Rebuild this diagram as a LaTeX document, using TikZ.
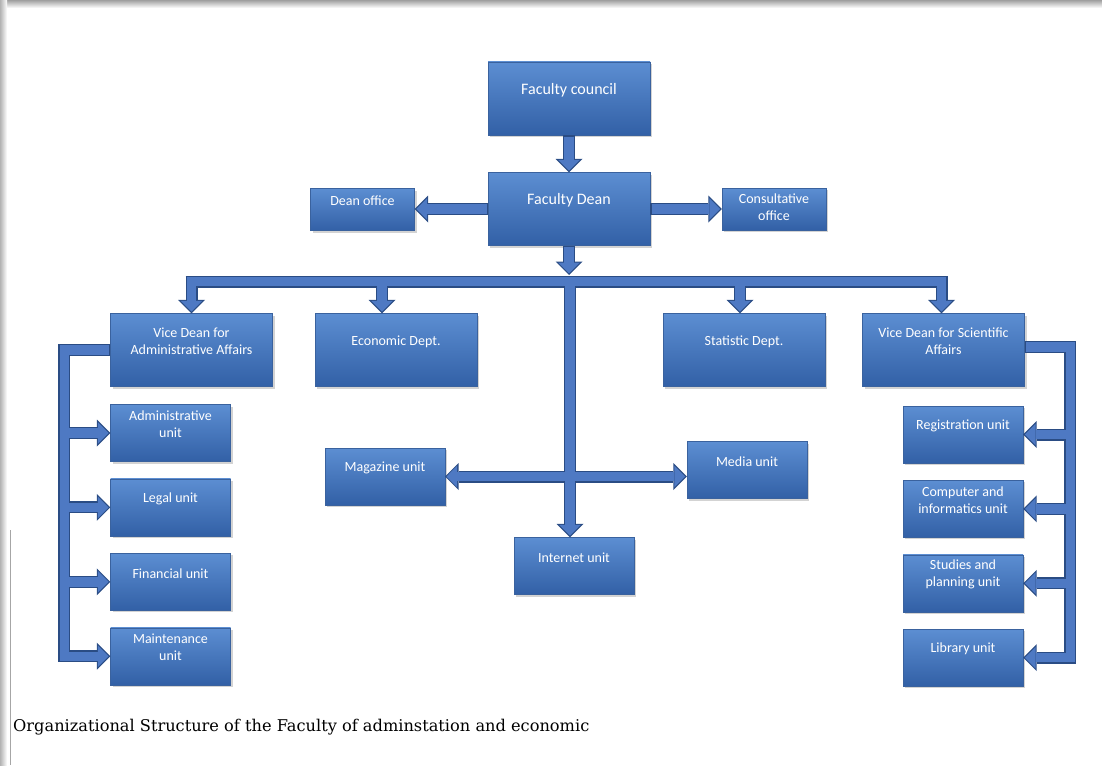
\documentclass[tikz,border=0pt]{standalone}
\usepackage{fontspec}
\usepackage{tikz}
\usetikzlibrary{positioning,arrows.meta,shadows}
\newfontfamily\boxfont{Carlito}
\newfontfamily\capfont{DejaVu Serif}
\definecolor{boxtop}{RGB}{92,142,210}
\definecolor{boxbot}{RGB}{50,96,166}
\definecolor{boxedge}{RGB}{58,98,158}
\definecolor{pipefill}{RGB}{78,121,195}
\definecolor{pipeedge}{RGB}{42,76,132}

\tikzset{
	box/.style={draw=boxedge, top color=boxtop, bottom color=boxbot, minimum width=162pt, minimum height=73pt,
		drop shadow={shadow xshift=2pt, shadow yshift=-2pt, opacity=0.35}},
	unit/.style={box, minimum width=120pt, minimum height=57pt},
	small/.style={box, minimum width=104pt, minimum height=42pt},
	lbl/.style={text=white, font=\boxfont\fontsize{14}{17}\selectfont, align=center, yshift=8.5pt},
	big/.style={lbl, font=\boxfont\fontsize{16}{19}\selectfont},
	pipe-out/.style={line width=12pt, draw=pipeedge, line join=miter,
		>={Triangle[width=27pt,length=13.5pt,line width=0pt]}},
	pipe-in/.style={line width=9.4pt, draw=pipefill, line join=miter, shorten >=1.7pt, shorten <=1.3pt,
		>={Triangle[width=21.5pt,length=10.7pt,line width=0pt]}}
}

\begin{document}
\begin{tikzpicture}[x=1pt, y=-1pt]
	\useasboundingbox (0,0) rectangle (1102,765);
	% page shadow
	\shade[top color=gray!75, bottom color=white] (0,0) rectangle (1102,8);
	\shade[left color=gray!60, right color=white] (0,0) rectangle (7,765);
	\draw[gray!70, line width=0.8pt] (10.5,530) -- (10.5,765);

	\node[box, label={[big]center:Faculty council}] (fc) at (569,98.5) {};
	\node[box, label={[big]center:Faculty Dean}] (fd) at (569,209) {};
	\node[small, label={[lbl]center:Dean office}] (dof) at (362.5,209.5) {};
	\node[small, label={[lbl, yshift=-6.5pt]center:{Consultative\\office}}] (con) at (774,209) {};

	\node[box, label={[lbl]center:{Vice Dean for\\Administrative Affairs}}] (vda) at (191.5,350) {};
	\node[box, label={[lbl]center:Economic Dept.}] (eco) at (396,350) {};
	\node[box, label={[lbl]center:Statistic Dept.}] (sta) at (744,350) {};
	\node[box, label={[lbl]center:{Vice Dean for Scientific\\Affairs}}] (vds) at (943.5,350) {};

	\node[unit, label={[lbl]center:{Administrative\\unit}}] (adm) at (170.5,433) {};
	\node[unit, below=17pt of adm, label={[lbl]center:Legal unit}] (leg) {};
	\node[unit, below=17pt of leg, label={[lbl]center:Financial unit}] (fin) {};
	\node[unit, below=17pt of fin, label={[lbl]center:{Maintenance\\unit}}] (mnt) {};

	\node[unit, label={[lbl]center:Registration unit}] (reg) at (963,434.5) {};
	\node[unit, below=17pt of reg, label={[lbl]center:{Computer and\\informatics unit}}] (cmp) {};
	\node[unit, below=17pt of cmp, label={[lbl]center:{Studies and\\planning unit}}] (stu) {};
	\node[unit, below=17pt of stu, label={[lbl]center:Library unit}] (lib) {};

	\node[unit, label={[lbl]center:Magazine unit}] (mag) at (385,476.5) {};
	\node[unit, label={[lbl]center:Media unit}] (med) at (747,470) {};
	\node[unit, label={[lbl]center:Internet unit}] (int) at (574,566) {};

	\coordinate (bar) at (570,281.5);
	\coordinate (bartop) at (570,275);

	% block arrows: dark edge first, then the fill
	\foreach \p in {pipe-out,pipe-in} {
		\draw[\p,->] (fc.south) -- (fd.north);
		\draw[\p,->] (fd.west) -- (dof.east |- fd.west);
		\draw[\p,->] (fd.east) -- (con.west |- fd.east);
		\draw[\p,->] (fd.south) -- (fd.south |- bartop);
		\draw[\p] ([xshift=-6pt]vda.north |- bar) -- ([xshift=4pt]vds.north |- bar);
		\foreach \n/\s in {vda/0pt, eco/-14pt, sta/-4pt, vds/-2pt}
			\draw[\p,->] ([xshift=\s]\n.north |- bar) -- ([xshift=\s]\n.north);
		\draw[\p,->] (bar) -- (bar |- int.north);
		\draw[\p,<->] (mag.east) -- (mag.east -| med.west);
		\draw[\p,->] (vda.west) -| ([xshift=-46pt]mnt.west) -- (mnt.west);
		\foreach \n in {adm,leg,fin}
			\draw[\p,->] ([xshift=-46pt]\n.west) -- (\n.west);
		\draw[\p,->] ([yshift=3pt]vds.east) -| ([xshift=47pt]lib.east) -- (lib.east);
		\foreach \n in {reg,cmp,stu}
			\draw[\p,->] ([xshift=47pt]\n.east) -- (\n.east);
	}

	\node[anchor=west, inner sep=0pt, font=\capfont\fontsize{16.2}{19}\selectfont] (cap) at (13,727)
		{Organizational Structure of the Faculty of adminstation and economic};
\end{tikzpicture}
\end{document}
